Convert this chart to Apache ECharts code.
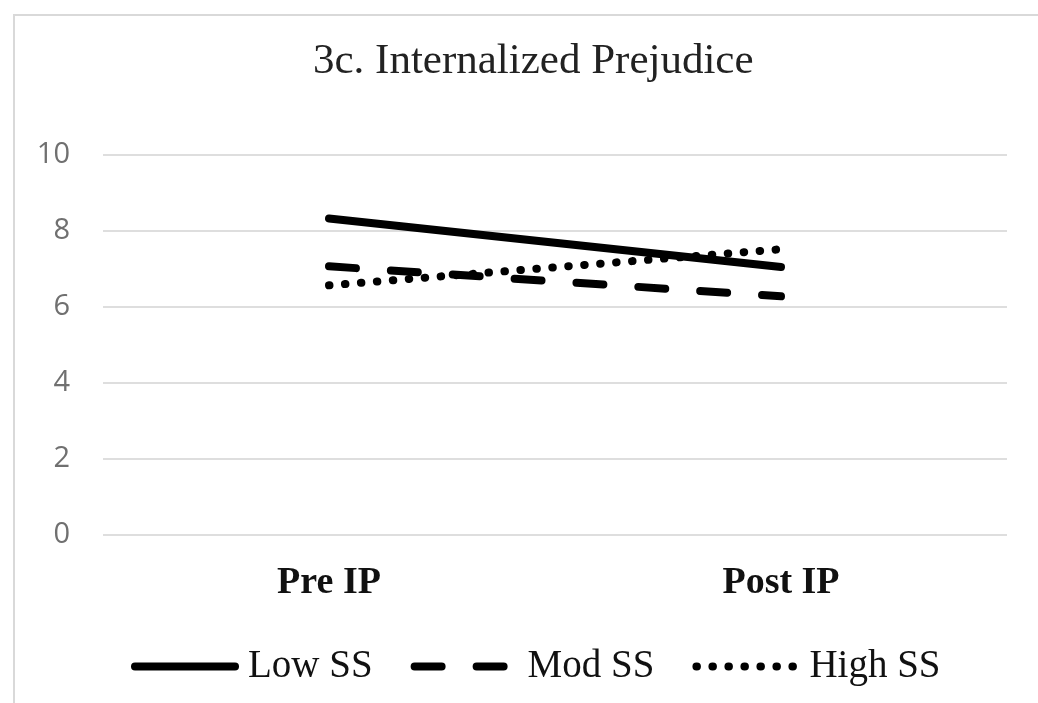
<!DOCTYPE html>
<html>
<head>
<meta charset="utf-8">
<style>html,body{margin:0;padding:0;background:#fff;}#chart{width:1038px;height:703px;}</style>
<script src="https://cdn.jsdelivr.net/npm/echarts@6/dist/echarts.min.js"></script>
</head>
<body>
<div id="chart"></div>
<script>
const categories = ['Pre IP', 'Post IP'];
const lowSS = [8.33, 7.05];
const modSS = [7.07, 6.28];
const highSS = [6.57, 7.52];
const seriesNames = ['Low SS', 'Mod SS', 'High SS'];

const chart = echarts.init(document.getElementById('chart'), null, {renderer: 'canvas'});
const serif = '"Liberation Serif", "Times New Roman", serif';
function mkSeries(name, data, dash, width) {
  return {
    name: name, type: 'line', data: data, showSymbol: false, symbol: 'none',
    lineStyle: {color: '#000', width: width, type: dash, cap: 'round'},
    itemStyle: {color: '#000'}
  };
}
chart.setOption({
  animation: false,
  graphic: [{type: 'rect', shape: {x: 14, y: 15, width: 1040, height: 700}, style: {fill: 'none', stroke: '#d9d9d9', lineWidth: 2}, silent: true}],
  title: {text: '3c. Internalized Prejudice', left: 308, top: 35,
    textStyle: {fontFamily: serif, fontSize: 43, fontWeight: 'normal', color: '#222'}},
  grid: {left: 103, right: 31, top: 155, bottom: 168, containLabel: false},
  xAxis: {type: 'category', data: categories, boundaryGap: true,
    axisLine: {show: false}, axisTick: {show: false},
    axisLabel: {fontFamily: serif, fontSize: 38, fontWeight: 'bold', color: '#111', margin: 29}},
  yAxis: {type: 'value', min: 0, max: 10, interval: 2,
    axisLine: {show: false}, axisTick: {show: false},
    splitLine: {lineStyle: {color: '#dedede', width: 2}},
    axisLabel: {fontFamily: '"Open Sans", "Noto Sans", sans-serif', fontSize: 29, color: '#707070', margin: 33}},
  legend: {top: 642, left: 126, itemWidth: 100, itemHeight: 14, itemGap: 38,
    textStyle: {fontFamily: serif, fontSize: 39, color: '#111', padding: [0, 0, 0, 8]},
    itemStyle: {opacity: 0},
    lineStyle: {width: 8, cap: 'round'},
    data: seriesNames},
  series: [
    mkSeries(seriesNames[0], lowSS, 'solid', 8),
    mkSeries(seriesNames[1], modSS, [27, 35], 8),
    mkSeries(seriesNames[2], highSS, [0.5, 15.5], 8)
  ]
});
</script>
</body>
</html>
